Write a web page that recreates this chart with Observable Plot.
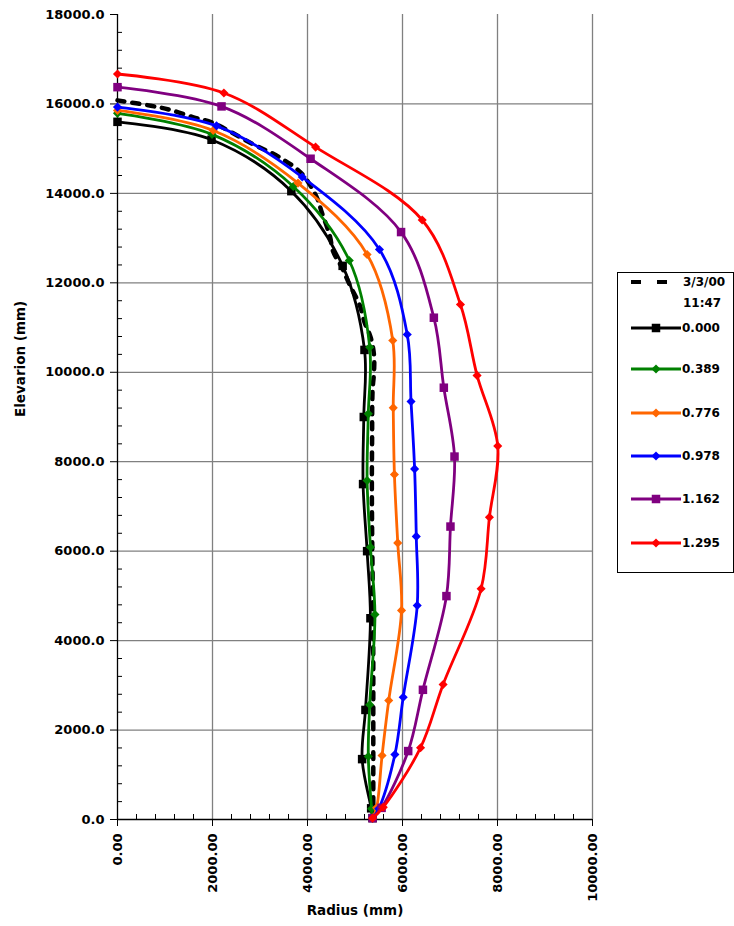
<!DOCTYPE html>
<html>
<head>
<meta charset="utf-8">
<script src="https://cdn.jsdelivr.net/npm/d3@7"></script>
<script src="https://cdn.jsdelivr.net/npm/@observablehq/plot@0.6"></script>
<style>
  html, body { margin: 0; padding: 0; background: #fff; }
  #wrap { position: relative; width: 734px; height: 926px; }
  #legend { position: absolute; left: 617px; top: 272px; }
</style>
</head>
<body>
<div id="wrap"><div id="chart"></div><div id="legend"></div></div>
<script>
// Profile of radius vs. elevation for each load level
const seriesNames = ["3/3/00 11:47", "0.000", "0.389", "0.776", "0.978", "1.162", "1.295"];
const seriesColors = ["#000000", "#000000", "#008000", "#ff6600", "#0000ff", "#800080", "#ff0000"];
const seriesSymbols = [null, "square", "diamond2", "diamond2", "diamond2", "square", "diamond2"];

// Measured profile 3/3/00 11:47 (dashed, no markers)
const radius_ref = [0, 700, 1100, 1600, 2000, 2850, 3250, 3500, 3770, 3930, 4200, 4300, 4470, 4540, 4720, 4890, 5100, 5200, 5330, 5400, 5400, 5370, 5360, 5355, 5360, 5370, 5380, 5385, 5385, 5385, 5385, 5385];
const elev_ref   = [16080, 15960, 15870, 15700, 15580, 15100, 14900, 14750, 14550, 14380, 13900, 13580, 13050, 12700, 12350, 11950, 11500, 11120, 10780, 10380, 10000, 9600, 8500, 7500, 6500, 5500, 4500, 3500, 2500, 1500, 500, 0];

const radius_000 = [0, 1980, 3660, 4740, 5200, 5185, 5170, 5255, 5325, 5220, 5150, 5340, 5370];
const elev_000   = [15600, 15200, 14050, 12380, 10500, 9000, 7500, 6000, 4500, 2450, 1350, 250, 30];

const radius_389 = [0, 1990, 3700, 4880, 5310, 5280, 5255, 5325, 5420, 5310, 5280, 5350, 5370];
const elev_389   = [15790, 15320, 14155, 12500, 10560, 9070, 7580, 6090, 4585, 2565, 1410, 240, 30];

const radius_776 = [0, 2015, 3800, 5255, 5795, 5805, 5830, 5900, 5980, 5710, 5570, 5455, 5370];
const elev_776   = [15855, 15405, 14230, 12635, 10710, 9205, 7715, 6185, 4675, 2660, 1430, 260, 30];

const radius_978 = [0, 2085, 3890, 5515, 6100, 6180, 6255, 6290, 6310, 6015, 5840, 5500, 5370];
const elev_978   = [15930, 15510, 14365, 12745, 10845, 9345, 7840, 6330, 4785, 2735, 1455, 240, 30];

const radius_1162 = [0, 2190, 4065, 5970, 6660, 6870, 7095, 7010, 6925, 6430, 6120, 5560, 5370];
const elev_1162   = [16375, 15945, 14775, 13135, 11220, 9655, 8115, 6550, 4995, 2900, 1530, 260, 30];

const radius_1295 = [0, 2240, 4170, 6415, 7220, 7570, 8005, 7830, 7655, 6855, 6380, 5595, 5370];
const elev_1295   = [16670, 16245, 15035, 13405, 11515, 9930, 8350, 6760, 5160, 3020, 1605, 275, 30];

// Axis ticks
const xTicks = [0, 2000, 4000, 6000, 8000, 10000];
const yTicks = [0, 2000, 4000, 6000, 8000, 10000, 12000, 14000, 16000, 18000];
const xMinor = d3.range(400, 10000, 400).filter(v => v % 2000 !== 0);
const yMinor = d3.range(400, 18000, 400).filter(v => v % 2000 !== 0);

const radii = [radius_ref, radius_000, radius_389, radius_776, radius_978, radius_1162, radius_1295];
const elevs = [elev_ref, elev_000, elev_389, elev_776, elev_978, elev_1162, elev_1295];

const rows = [];
radii.forEach((rs, i) => rs.forEach((r, j) => rows.push({series: seriesNames[i], idx: i, radius: r, elev: elevs[i][j]})));

const font = "DejaVu Sans, Verdana, sans-serif";
const squareR = 4.8;
const diamondR = 4.1;

const marks = [
  Plot.ruleX(xTicks.slice(1), {stroke: "#808080", strokeWidth: 1.3}),
  Plot.ruleY(yTicks.slice(1, -1), {stroke: "#808080", strokeWidth: 1.3}),
  Plot.ruleX([0], {stroke: "#000", strokeWidth: 1.3}),
  Plot.ruleY([0], {stroke: "#000", strokeWidth: 1.3}),
  Plot.axisX({ticks: xTicks, tickFormat: d => d.toFixed(2), tickRotate: -90, tickSize: 7, tickPadding: 7, label: null, fontSize: 13, fontWeight: "bold"}),
  Plot.axisX({ticks: xMinor, tickSize: -5, tickFormat: () => "", label: null}),
  Plot.axisY({ticks: yTicks, tickFormat: d => d.toFixed(1), tickSize: 7, tickPadding: 6, label: null, fontSize: 13, fontWeight: "bold"}),
  Plot.axisY({ticks: yMinor, tickSize: -5, tickFormat: () => "", label: null}),
  Plot.text(["Radius (mm)"], {frameAnchor: "bottom", dy: 95, fontSize: 13.5, fontWeight: "bold", fill: "#000"}),
  Plot.text(["Elevarion (mm)"], {frameAnchor: "left", rotate: -90, dx: -97, fontSize: 13.5, fontWeight: "bold", fill: "#000"})
];

// Draw series in order so that later loads sit on top
seriesNames.forEach((name, i) => {
  const data = rows.filter(d => d.idx === i);
  marks.push(Plot.line(data, {
    x: "radius", y: "elev", stroke: seriesColors[i], curve: "catmull-rom",
    strokeWidth: i === 0 ? 4.5 : 2.8,
    strokeDasharray: i === 0 ? "7,8" : null,
    sort: null
  }));
  if (seriesSymbols[i]) {
    marks.push(Plot.dot(data, {
      x: "radius", y: "elev", symbol: seriesSymbols[i], fill: seriesColors[i], stroke: "none",
      r: seriesSymbols[i] === "square" ? squareR : diamondR
    }));
  }
});

const chart = Plot.plot({
  width: 734,
  height: 926,
  marginLeft: 117,
  marginRight: 142,
  marginTop: 14,
  marginBottom: 107,
  x: {domain: [0, 10000]},
  y: {domain: [0, 18000]},
  style: {fontFamily: font, fontSize: "13px", color: "#000", background: "#fff", overflow: "visible"},
  marks
});
document.getElementById("chart").appendChild(chart);

// Legend box on the right
const lg = d3.select("#legend").append("svg")
  .attr("width", 117).attr("height", 302)
  .style("font-family", font).style("font-size", "12px").style("font-weight", "bold");
lg.append("rect").attr("x", 0.5).attr("y", 0.5).attr("width", 116).attr("height", 300)
  .attr("fill", "#fff").attr("stroke", "#000");
const rowY = [10, 56, 97, 141, 184, 227, 271];
seriesNames.forEach((name, i) => {
  const y = rowY[i];
  if (i === 0) {
    lg.append("line").attr("x1", 14).attr("x2", 50).attr("y1", y).attr("y2", y)
      .attr("stroke", "#000").attr("stroke-width", 4).attr("stroke-dasharray", "10,16");
    const [d1, d2] = name.split(" ");
    lg.append("text").attr("x", 66).attr("y", y).attr("dy", "0.35em").text(d1);
    lg.append("text").attr("x", 66).attr("y", y + 21).attr("dy", "0.35em").text(d2);
  } else {
    lg.append("line").attr("x1", 14).attr("x2", 64).attr("y1", y).attr("y2", y)
      .attr("stroke", seriesColors[i]).attr("stroke-width", 2.8);
    const isSquare = seriesSymbols[i] === "square";
    const r = isSquare ? squareR : diamondR;
    lg.append("path").attr("transform", `translate(39,${y})`)
      .attr("d", d3.symbol(isSquare ? d3.symbolSquare : d3.symbolDiamond2, Math.PI * r * r)())
      .attr("fill", seriesColors[i]);
    lg.append("text").attr("x", 65).attr("y", y).attr("dy", "0.35em").text(name);
  }
});
</script>
</body>
</html>
